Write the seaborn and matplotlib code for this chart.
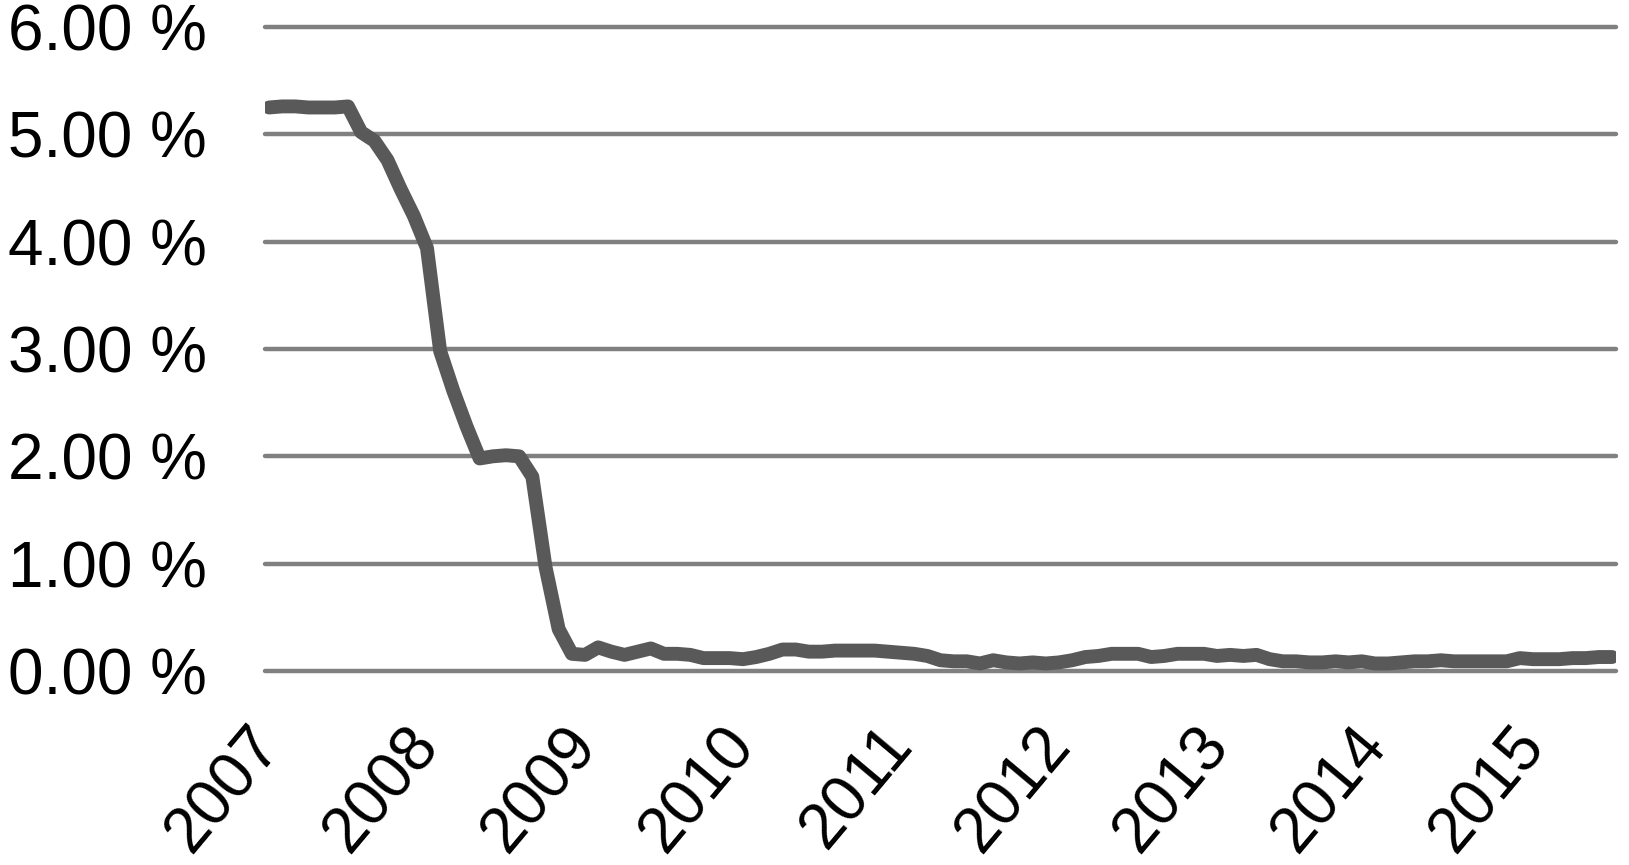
import pandas as pd
import matplotlib.pyplot as plt
import matplotlib.transforms as mtrans
import seaborn as sb

# effective fed funds rate, monthly, Jan 2007 - Jul 2015
rate_2007 = [5.25, 5.26, 5.26, 5.25, 5.25, 5.25, 5.26, 5.02, 4.94, 4.76, 4.49, 4.24]
rate_2008 = [3.94, 2.98, 2.61, 2.28, 1.98, 2.00, 2.01, 2.00, 1.81, 0.97, 0.39, 0.16]
rate_2009 = [0.15, 0.22, 0.18, 0.15, 0.18, 0.21, 0.16, 0.16, 0.15, 0.12, 0.12, 0.12]
rate_2010 = [0.11, 0.13, 0.16, 0.20, 0.20, 0.18, 0.18, 0.19, 0.19, 0.19, 0.19, 0.18]
rate_2011 = [0.17, 0.16, 0.14, 0.10, 0.09, 0.09, 0.07, 0.10, 0.08, 0.07, 0.08, 0.07]
rate_2012 = [0.08, 0.10, 0.13, 0.14, 0.16, 0.16, 0.16, 0.13, 0.14, 0.16, 0.16, 0.16]
rate_2013 = [0.14, 0.15, 0.14, 0.15, 0.11, 0.09, 0.09, 0.08, 0.08, 0.09, 0.08, 0.09]
rate_2014 = [0.07, 0.07, 0.08, 0.09, 0.09, 0.10, 0.09, 0.09, 0.09, 0.09, 0.09, 0.12]
rate_2015 = [0.11, 0.11, 0.11, 0.12, 0.12, 0.13, 0.13]

years = ['2007', '2008', '2009', '2010', '2011', '2012', '2013', '2014', '2015']
y_ticks = [0, 1, 2, 3, 4, 5, 6]

rates = (rate_2007 + rate_2008 + rate_2009 + rate_2010 + rate_2011
         + rate_2012 + rate_2013 + rate_2014 + rate_2015)
df = pd.DataFrame({'month': range(len(rates)), 'rate': rates})

sb.set_style('white')
plt.rcParams['font.family'] = ['Liberation Sans', 'DejaVu Sans']

fig = plt.figure(figsize=(16.29, 8.65), dpi=100)
ax = fig.add_axes([0.1627, 0.2243, 0.8293, 0.7445])

sb.lineplot(data=df, x='month', y='rate', ax=ax, color='#595959', linewidth=10,
            solid_capstyle='round', solid_joinstyle='round', zorder=3)

ax.set_xlim(-0.3, 102.3)
ax.set_ylim(0, 6)
ax.set_yticks(y_ticks)
ax.set_yticklabels(['%.2f %%' % v for v in y_ticks])
ax.set_xticks(range(0, 12 * len(years), 12))

ax.yaxis.grid(True, color='#808080', linewidth=3.2, clip_on=False)
ax.xaxis.grid(False)
for s in ax.spines.values():
    s.set_visible(False)
ax.tick_params(axis='y', length=0, pad=42, labelsize=46, labelcolor='black')
ax.tick_params(axis='x', length=0, pad=32, labelsize=46, labelcolor='black')
ax.set_xlabel('')
ax.set_ylabel('')

# labels set after tick_params so the small left shift sticks
ax.set_xticklabels(years, rotation=50, ha='right', va='top', rotation_mode='anchor')
shift = mtrans.ScaledTranslation(-0.22, 0, fig.dpi_scale_trans)
for lab in ax.get_xticklabels():
    lab.set_transform(lab.get_transform() + shift)

fig.savefig('out.png', dpi=100)
